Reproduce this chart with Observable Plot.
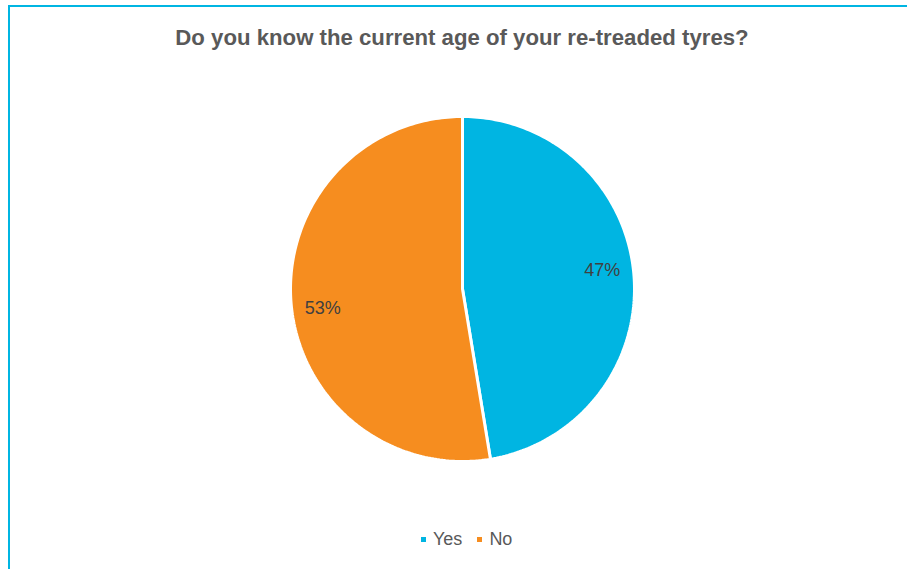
<!DOCTYPE html>
<html><head><meta charset="utf-8">
<script src="https://cdn.jsdelivr.net/npm/d3@7"></script>
<script src="https://cdn.jsdelivr.net/npm/@observablehq/plot@0.6"></script>
<style>
body{margin:0;background:#fff;font-family:"Liberation Sans",Arial,sans-serif;}
#wrap{position:relative;width:907px;height:569px;overflow:hidden;background:#fff;}
#border{position:absolute;left:8px;top:5px;width:1000px;height:1000px;border:2px solid #00B5E2;box-sizing:border-box;pointer-events:none;}
#title{position:absolute;left:8px;width:908px;top:27px;text-align:center;font-weight:bold;font-size:22.2px;line-height:22px;color:#595959;white-space:nowrap;}
#legend{position:absolute;top:530px;left:421px;font-size:18px;line-height:18px;color:#595959;display:flex;align-items:center;white-space:nowrap;}
#legend .sw{display:inline-block;width:5px;height:5px;margin-right:7px;}
#legend .item{display:flex;align-items:center;margin-right:15px;}
#chart{position:absolute;left:0;top:0;}
</style>
</head><body>
<div id="wrap">
  <div id="chart"></div>
  <div id="border"></div>
  <div id="title"></div>
  <div id="legend"></div>
</div>
<script>
const titleText = "Do you know the current age of your re-treaded tyres?";
const categories = ["Yes", "No"];
const values = [47.4, 52.6];
const colors = ["#00B5E2", "#F68D1F"];

document.getElementById("title").textContent = titleText;

const total = d3.sum(values);
const slices = [];
const labelData = [];
const labelShift = -3 * Math.PI / 180;
let acc = 0;
categories.forEach((cat, i) => {
  const a0 = acc / total * 2 * Math.PI;
  acc += values[i];
  const a1 = acc / total * 2 * Math.PI;
  const n = Math.max(2, Math.ceil((a1 - a0) / (Math.PI / 180)));
  slices.push({cat, x: 0, y: 0});
  for (let k = 0; k <= n; k++) {
    const a = a0 + (a1 - a0) * k / n;
    slices.push({cat, x: Math.sin(a), y: Math.cos(a)});
  }
  slices.push({cat, x: 0, y: 0});
  const am = (a0 + a1) / 2 + labelShift;
  labelData.push({cat, label: Math.round(values[i] / total * 100) + "%", x: 0.82 * Math.sin(am), y: 0.82 * Math.cos(am)});
});

const plot = Plot.plot({
  width: 907,
  height: 569,
  margin: 0,
  style: {fontFamily: "'Liberation Sans', Arial, sans-serif", background: "transparent"},
  x: {domain: [-1, 1], range: [290, 634], axis: null},
  y: {domain: [-1, 1], range: [461, 116], axis: null},
  color: {domain: categories, range: colors},
  marks: [
    Plot.line(slices, {x: "x", y: "y", z: "cat", fill: "cat", stroke: "white", strokeWidth: 3, strokeLinejoin: "miter"}),
    Plot.text(labelData, {x: "x", y: "y", text: "label", fill: "#404040", fontSize: 18})
  ]
});
document.getElementById("chart").appendChild(plot);

const legend = document.getElementById("legend");
categories.forEach((cat, i) => {
  const item = document.createElement("span");
  item.className = "item";
  const sw = document.createElement("span");
  sw.className = "sw";
  sw.style.background = colors[i];
  const t = document.createElement("span");
  t.textContent = cat;
  item.appendChild(sw);
  item.appendChild(t);
  legend.appendChild(item);
});
</script>
</body></html>
